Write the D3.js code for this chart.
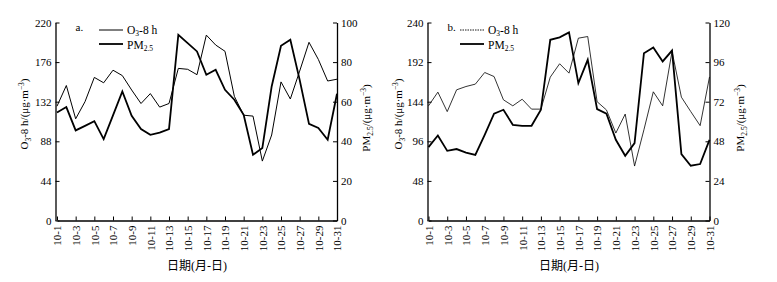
<!DOCTYPE html>
<html><head><meta charset="utf-8">
<script src="https://cdn.jsdelivr.net/npm/d3@7"></script>
<style>body{margin:0;background:#fff}svg{display:block}text{font-family:"Liberation Serif","Noto Sans CJK SC",serif;fill:#000}</style>
</head><body><svg id="c" width="777" height="282"></svg>
<script>
const days = [1,2,3,4,5,6,7,8,9,10,11,12,13,14,15,16,17,18,19,20,21,22,23,24,25,26,27,28,29,30,31];
const tickDays = [1,3,5,7,9,11,13,15,17,19,21,23,25,27,29,31];
const o3A = [127,150,113,132,159,153,167,161,145,130,141,126,130,169,168,162,206,195,188,138,117,116,66,95,154,135,166,198,179,155,157];
const pmA = [54.5,57.3,45.5,47.8,50.2,41.1,53.1,65.2,52.9,46.2,43.3,44.4,46.2,93.8,89.6,85.4,73.6,76.1,66,61,53.4,33.2,36.6,67.7,88.2,91.3,71,48.8,46.7,40.8,64];
const o3B = [139,155.6,132,158.4,162.4,165.3,179.4,174.5,146.3,139,147,135,135,173.8,190,178.6,221,223,144,134,106,129,66,110,156,139,205,149.5,132,115,174];
const pmB = [44.5,51.5,42.2,43.3,41.2,39.8,51.9,64.7,67.1,58,57.4,57.4,67.1,109.5,111,114,83.3,97.4,67.5,64.7,48.9,39.2,46.9,101.4,104.8,96.4,103,40.2,33.2,34.2,48.9];
const leftTicksA = [0,44,88,132,176,220];
const rightTicksA = [0,20,40,60,80,100];
const leftTicksB = [0,48,96,144,192,240];
const rightTicksB = [0,24,48,72,96,120];

const svg = d3.select("#c");

function panel(cfg){
  const g = svg.append("g");
  const x = d3.scaleLinear().domain([1,31]).range([cfg.x0, cfg.x1]);
  const yL = d3.scaleLinear().domain([0, cfg.lMax]).range([220.5, 22.5]);
  const yR = d3.scaleLinear().domain([0, cfg.rMax]).range([220.5, 22.5]);

  const xAxis = d3.axisBottom(x).tickValues(tickDays).tickFormat(d=>"10-"+d).tickSizeInner(-4).tickSizeOuter(0);
  const gx = g.append("g").attr("transform","translate(0,220.5)").call(xAxis);
  gx.selectAll("text").attr("transform","rotate(-90)").attr("text-anchor","end").attr("x",-5).attr("y",0).attr("dy","0.35em").style("font-size","11px");

  const gl = g.append("g").attr("transform",`translate(${cfg.lx},0)`).call(d3.axisLeft(yL).tickValues(cfg.lTicks).tickSizeInner(-4).tickSizeOuter(0).tickPadding(4));
  gl.selectAll("text").style("font-size","11px");
  const gr = g.append("g").attr("transform",`translate(${cfg.rx},0)`).call(d3.axisRight(yR).tickValues(cfg.rTicks).tickSizeInner(-4).tickSizeOuter(0).tickPadding(4));
  gr.selectAll("text").style("font-size","11px").attr("text-anchor","start");
  g.selectAll(".domain").attr("stroke","#000").attr("stroke-width",1.3);
  g.selectAll(".tick line").attr("stroke","#000");
  g.selectAll(".tick text").attr("fill","#000");

  g.append("path").datum(days).attr("fill","none").attr("stroke","#000").attr("stroke-width",cfg.o3w)
    .attr("d", d3.line().x(d=>x(d)).y((d,i)=>yL(cfg.o3[i])));
  g.append("path").datum(days).attr("fill","none").attr("stroke","#000").attr("stroke-width",1.8)
    .attr("d", d3.line().x(d=>x(d)).y((d,i)=>yR(cfg.pm[i])));

  // legend
  const lg = g.append("g");
  lg.append("text").attr("x",cfg.lx+20).attr("y",31).style("font-size","11px").text(cfg.tag);
  lg.append("line").attr("x1",cfg.legX).attr("x2",cfg.legX+24).attr("y1",30).attr("y2",30)
    .attr("stroke","#000").attr("stroke-width",cfg.legDash?0.9:1).attr("stroke-dasharray",cfg.legDash?"1.5,1":null);
  const t1 = lg.append("text").attr("x",cfg.legX+28).attr("y",33.5).style("font-size","11.5px");
  t1.append("tspan").text("O");
  t1.append("tspan").attr("dy",2).style("font-size","7.5px").text("3");
  t1.append("tspan").attr("dy",-2).text("-8 h");
  lg.append("line").attr("x1",cfg.legX).attr("x2",cfg.legX+24).attr("y1",44).attr("y2",44).attr("stroke","#000").attr("stroke-width",1.8);
  const t2 = lg.append("text").attr("x",cfg.legX+28).attr("y",48.5).style("font-size","11.5px");
  t2.append("tspan").text("PM");
  t2.append("tspan").attr("dy",2).style("font-size","7.5px").text("2.5");

  // y titles
  const ly = g.append("text").attr("transform",`translate(${cfg.ltx},114) rotate(-90)`).attr("text-anchor","middle").style("font-size","11px");
  ly.append("tspan").text("O");
  ly.append("tspan").attr("dy",3).style("font-size","7.5px").text("3");
  ly.append("tspan").attr("dy",-3).text("-8 h/(μg·m");
  ly.append("tspan").attr("dy",-4).style("font-size","7.5px").text("−3");
  ly.append("tspan").attr("dy",4).text(")");
  const ry = g.append("text").attr("transform",`translate(${cfg.rtx},118) rotate(-90)`).attr("text-anchor","middle").style("font-size","11px");
  ry.append("tspan").text("PM");
  ry.append("tspan").attr("dy",3).style("font-size","7.5px").text("2.5");
  ry.append("tspan").attr("dy",-3).text("/(μg·m");
  ry.append("tspan").attr("dy",-4).style("font-size","7.5px").text("−3");
  ry.append("tspan").attr("dy",4).text(")");

  g.append("text").attr("x",(cfg.x0+cfg.x1)/2).attr("y",270).attr("text-anchor","middle").style("font-size","12px").text("日期(月-日)");
}

panel({x0:57, x1:337, lx:55.5, rx:337, lMax:220, rMax:100, lTicks:leftTicksA, rTicks:rightTicksA,
  o3:o3A, pm:pmA, o3w:1, tag:"a.", legX:99, legDash:false, ltx:28, rtx:370});
panel({x0:428.5, x1:709.5, lx:427.5, rx:709.5, lMax:240, rMax:120, lTicks:leftTicksB, rTicks:rightTicksB,
  o3:o3B, pm:pmB, o3w:0.8, tag:"b.", legX:460, legDash:true, ltx:402, rtx:744});
</script></body></html>
